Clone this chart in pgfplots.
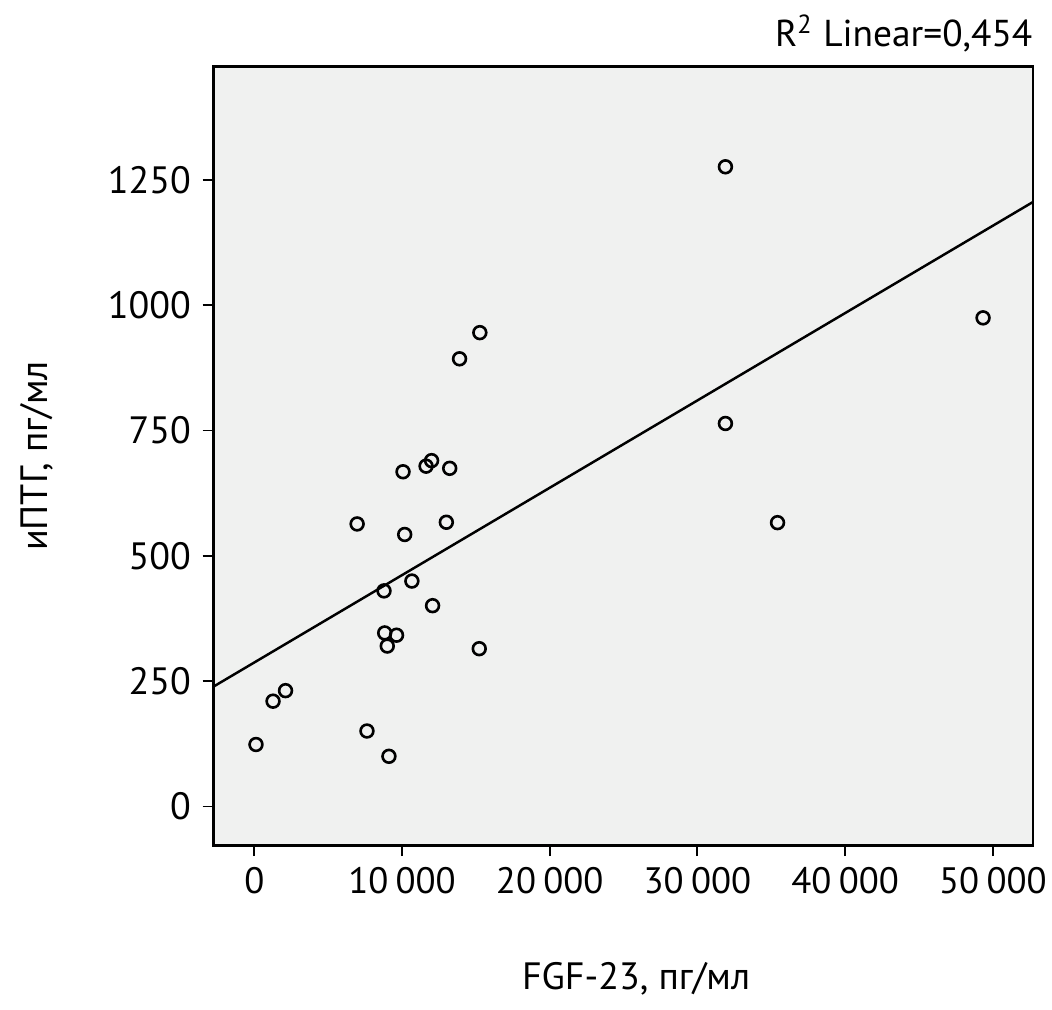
\documentclass[border=0pt]{standalone}
\usepackage{fontspec}
\setmainfont{PT Sans}
\usepackage{pgfplots}
\pgfplotsset{compat=1.18}
\definecolor{bgc}{RGB}{240,241,240}

\begin{document}
\begin{tikzpicture}
\begin{axis}[
  scale only axis,
  width=249.7pt, height=237.2pt,
  xmin=-2773, xmax=52713, ymin=-77.2, ymax=1475.8,
  axis background/.style={fill=bgc},
  axis line style={line width=0.9pt, black},
  xtick={0,10000,20000,30000,40000,50000},
  ytick={0,250,500,750,1000,1250},
  scaled x ticks=false, scaled y ticks=false,
  tick align=outside, tick pos=left,
  major tick length=3.3pt,
  every tick/.style={black, line width=0.6pt},
  /pgf/number format/assume math mode=true,
  xticklabel style={/pgf/number format/1000 sep={\hspace{0.2em}}, font=\fontsize{11.2}{13}\selectfont},
  yticklabel style={/pgf/number format/1000 sep={}, font=\fontsize{11.6}{13}\selectfont},
  title={R\textsuperscript{2} Linear=0,454},
  title style={at={(rel axis cs:1,1)}, anchor=base east, inner sep=0pt, font=\fontsize{11.4}{13}\selectfont},
  xlabel={FGF-23, пг/мл},
  xlabel style={at={(axis description cs:0.5158,-0.1855)}, anchor=base, inner sep=0pt, font=\fontsize{11.6}{13}\selectfont},
  ylabel={иПТГ, пг/мл},
  ylabel style={at={(axis description cs:-0.2023,0.5)}, anchor=base, inner sep=0pt, font=\fontsize{11.6}{13}\selectfont},
]
\coordinate (sw) at (rel axis cs:0,0);
\addplot[black, line width=0.75pt] coordinates {(-2773,239.0) (52713,1205.8)};
\addplot[only marks, mark=o, mark size=1.95pt, mark options={black, line width=0.8pt}] coordinates {
(113,123.7)
(1267,210.1)
(2113,231.1)
(6960,563.6)
(7627,150.6)
(8780,430.1)
(8827,346.2)
(9000,320.1)
(9113,100.2)
(9627,341.7)
(10067,667.7)
(10180,542.6)
(10667,449.7)
(11627,678.9)
(12000,689.9)
(12067,400.6)
(13000,567.0)
(13227,674.6)
(13893,893.0)
(15267,945.2)
(15227,314.8)
(31893,1276)
(31893,764)
(35420,566.2)
(49333,974.7)
};
\end{axis}
\pgfresetboundingbox
\useasboundingbox ([shift={(-65pt,-50pt)}]sw) rectangle ([shift={(255.5pt,257.5pt)}]sw);
\end{tikzpicture}
\end{document}
